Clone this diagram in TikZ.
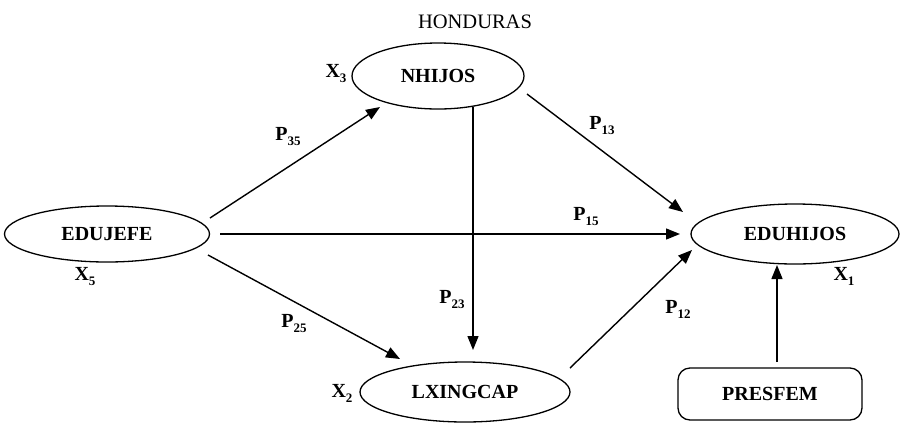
\documentclass[tikz,border=0pt]{standalone}
\usepackage{fontspec}
\setmainfont{Liberation Serif}
\usetikzlibrary{shapes.geometric,arrows.meta,calc}
\newcommand{\plab}[2]{#1\raisebox{-5pt}{\fontsize{13}{13}\selectfont #2}}
\begin{document}
\begin{tikzpicture}[x=1pt,y=-1pt,
  ell/.style={draw,ellipse,line width=1.3pt,inner sep=0pt,font=\fontsize{20}{20}\selectfont\bfseries},
  rbox/.style={draw,rectangle,rounded corners=12pt,line width=1.3pt,inner sep=0pt,font=\fontsize{20}{20}\selectfont\bfseries},
  lbl/.style={inner sep=0pt,font=\fontsize{20}{20}\selectfont\bfseries},
  arr/.style={line width=1.4pt,-{Triangle[length=14pt,width=11pt]}},
  ln/.style={line width=1.4pt}]
\useasboundingbox (0,0) rectangle (900,424);
\node[inner sep=0pt,font=\fontsize{20.5}{20.5}\selectfont] (title) at (475,22) {HONDURAS};
\node[ell,minimum width=172pt,minimum height=66pt] (nh) at (438,76) {NHIJOS};
\node[ell,minimum width=205pt,minimum height=56pt] (ej) at (107,234) {EDUJEFE};
\node[ell,minimum width=210pt,minimum height=60pt] (lx) at (465,392) {LXINGCAP};
\node[ell,minimum width=208pt,minimum height=60pt] (eh) at (795,234) {EDUHIJOS};
\node[rbox,minimum width=184pt,minimum height=52pt] (pf) at (770,394) {PRESFEM};
% variable labels
\node[lbl] (x3) at (336,74) {\plab{X}{3}};
\node[lbl] (x5) at (85,277) {\plab{X}{5}};
\node[lbl] (x2) at (342,393) {\plab{X}{2}};
\node[lbl] (x1) at (844,276) {\plab{X}{1}};
% path labels
\node[lbl] (p35) at (288,137) {\plab{P}{35}};
\node[lbl] (p13) at (602,126) {\plab{P}{13}};
\node[lbl] (p15) at (586,217) {\plab{P}{15}};
\node[lbl] (p23) at (452,300) {\plab{P}{23}};
\node[lbl] (p25) at (294,324) {\plab{P}{25}};
\node[lbl] (p12) at (678,309) {\plab{P}{12}};
% connectors
\draw[arr] ($(ej.center)+(103,-16)$) -- ($(nh.center)+(-58,31)$);
\draw[arr] ($(ej.center)+(113,0)$) -- ($(eh.center)+(-115,0)$);
\draw[arr] ($(ej.center)+(101,21)$) -- ($(lx.center)+(-65,-33)$);
\draw[arr] ($(nh.center)+(35,31)$) -- ($(lx.center)+(8,-42)$);
\draw[arr] ($(nh.center)+(89,18)$) -- ($(eh.center)+(-112,-22)$);
\draw[arr] ($(lx.center)+(105,-24)$) -- ($(eh.center)+(-103,16)$);
\draw[arr] ($(pf.center)+(7,-32)$) -- ($(eh.center)+(-18,31)$);
\end{tikzpicture}
\end{document}
